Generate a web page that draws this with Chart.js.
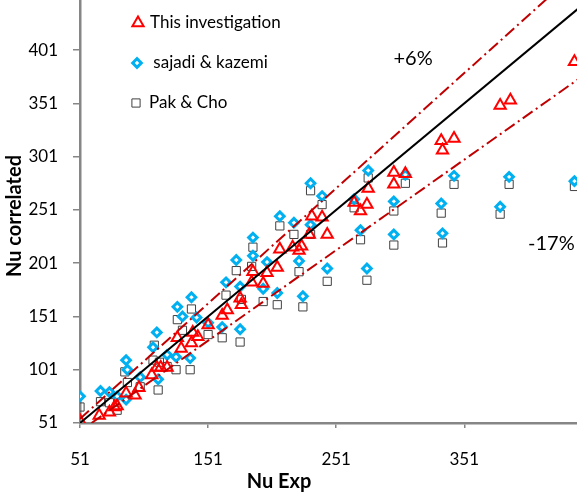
<!DOCTYPE html>
<html>
<head>
<meta charset="utf-8">
<title>Nu correlated vs Nu Exp</title>
<script src="https://cdn.jsdelivr.net/npm/chart.js@4.4.1/dist/chart.umd.min.js"></script>
<style>
  html, body { margin: 0; padding: 0; background: #fff; }
  canvas { display: block; }
</style>
</head>
<body>
<canvas id="nuChart" width="577" height="497"></canvas>
<script>
// Series names
const seriesNames = ['This investigation', ' sajadi & kazemi', 'Pak & Cho'];

// This investigation (Nu Exp, Nu correlated)
const thisX = [51, 66, 74, 78, 80, 87, 94, 97, 107, 111, 114, 119, 127, 130, 138, 139, 143,
  151, 162, 166, 176, 177, 185, 186, 194, 197, 205, 207, 217, 224, 222, 232, 240, 244, 230,
  265, 270, 275, 276, 296, 305, 296, 333, 343, 334, 379, 387, 437];
const thisY = [53, 58, 61, 66, 67, 79, 77, 84, 96, 103, 103, 103, 131, 121, 126, 136, 132,
  143, 152, 157, 168, 162, 183, 193, 182, 192, 197, 214, 216, 217, 213, 245, 244, 228, 228,
  258, 250, 256, 271, 286, 285, 275, 316, 318, 307, 349, 354, 390];

// sajadi & kazemi
const sajadiX = [51, 67, 74, 80, 87, 87, 88, 98, 112, 108, 111, 119, 126, 137, 127, 131, 138,
  142, 151, 162, 176, 165, 173, 176, 186, 186, 194, 197, 205, 207, 218, 222, 225, 231, 231,
  240, 244, 265, 270, 275, 276, 296, 296, 305, 333, 334, 343, 379, 386, 437];
const sajadiY = [76, 81, 80, 76, 73, 110, 101, 94, 92, 122, 136, 115, 113, 112, 160, 151, 169,
  150, 145, 141, 139, 183, 204, 179, 225, 208, 177, 202, 173, 245, 239, 203, 170, 276, 237,
  264, 196, 261, 232, 196, 288, 259, 228, 284, 257, 229, 283, 254, 282, 278];

// Pak & Cho
const pakX = [51, 67, 74, 80, 86, 88, 98, 108, 109, 113, 119, 126, 112, 137, 127, 131, 138,
  151, 162, 176, 165, 173, 177, 186, 185, 194, 205, 207, 218, 222, 225, 231, 231, 240, 244,
  265, 270, 275, 276, 296, 296, 305, 333, 334, 343, 379, 386, 437];
const pakY = [66, 71, 70, 63, 99, 89, 85, 110, 124, 108, 104, 101, 82, 101, 148, 138, 158,
  134, 131, 127, 171, 194, 167, 216, 198, 165, 162, 236, 228, 193, 160, 269, 228, 256, 184,
  253, 223, 185, 281, 250, 218, 276, 248, 220, 275, 247, 275, 273];

// Reference lines: parity, upper and lower bounds
const parityX = [51, 460];
const parityY = [51, 460];
const upperX = [51, 420];
const upperY = [55, 454];
const lowerX = [60, 445];
const lowerY = [51, 378];

// Axis ticks
const xTicks = [51, 151, 251, 351];
const yTicks = [51, 101, 151, 201, 251, 301, 351, 401];

const pts = (xs, ys) => xs.map((x, i) => ({ x: x, y: ys[i] }));

const FONT = 'Lato, "Open Sans", "DejaVu Sans", sans-serif';
const AXIS_GREY = '#868686';

const markerStyles = [
  { pointStyle: 'triangle', radius: 6.5, borderWidth: 2, borderColor: '#ff0000', backgroundColor: 'rgba(0,0,0,0)' },
  { pointStyle: 'rectRot', radius: 4.3, borderWidth: 3, borderColor: '#00b0f0', backgroundColor: '#ffffff' },
  { pointStyle: 'rect', radius: 5.8, borderWidth: 1, borderColor: '#404040', backgroundColor: 'rgba(0,0,0,0)' }
];

function scatterSet(label, data, st, order) {
  return {
    label: label,
    data: data,
    showLine: false,
    order: order,
    pointStyle: st.pointStyle,
    pointRadius: st.radius,
    pointHoverRadius: st.radius,
    pointBorderWidth: st.borderWidth,
    pointBorderColor: st.borderColor,
    pointBackgroundColor: st.backgroundColor
  };
}

function lineSet(data, color, dash, order) {
  return {
    data: data,
    showLine: true,
    order: order,
    borderColor: color,
    borderWidth: 2,
    borderDash: dash,
    pointRadius: 0,
    fill: false
  };
}

// the scales should not reserve room for edge labels
function noEdgePadding(s) {
  s.paddingTop = 0;
  s.paddingBottom = 0;
  s.paddingLeft = 0;
  s.paddingRight = 0;
}

// Legend, axis titles and percentage labels
const decorations = {
  id: 'decorations',
  afterDraw(chart) {
    const { ctx, scales } = chart;
    ctx.save();

    // legend in the top-left of the plot
    const rows = [
      { mx: 138, my: 23, tx: 150 },
      { mx: 137, my: 63, tx: 149 },
      { mx: 136, my: 103, tx: 149 }
    ];
    ctx.font = '17px ' + FONT;
    ctx.textBaseline = 'middle';
    ctx.textAlign = 'left';
    rows.forEach((r, i) => {
      const st = markerStyles[i];
      ctx.strokeStyle = st.borderColor;
      ctx.fillStyle = st.backgroundColor;
      ctx.lineWidth = st.borderWidth;
      Chart.helpers.drawPoint(ctx, { pointStyle: st.pointStyle, radius: st.radius, borderWidth: st.borderWidth, rotation: 0 }, r.mx, r.my);
      ctx.fillStyle = '#000';
      ctx.fillText(seriesNames[i], r.tx, r.my);
    });

    // percentage labels placed in data coordinates
    ctx.font = '20px ' + FONT;
    ctx.textAlign = 'center';
    ctx.fillText('+6%', scales.x.getPixelForValue(311), scales.y.getPixelForValue(393));
    ctx.fillText('-17%', scales.x.getPixelForValue(419), scales.y.getPixelForValue(219));

    // axis titles
    ctx.font = 'bold 20px ' + FONT;
    ctx.textBaseline = 'alphabetic';
    ctx.fillText('Nu Exp', 279, 488);
    ctx.translate(21, 216);
    ctx.rotate(-Math.PI / 2);
    ctx.fillText('Nu correlated', 0, 0);

    ctx.restore();
  }
};

const ctx = document.getElementById('nuChart');
new Chart(ctx, {
  type: 'scatter',
  data: {
    datasets: [
      lineSet(pts(parityX, parityY), '#000000', [], 1),
      lineSet(pts(upperX, upperY), '#c00000', [12, 4, 2, 4], 1),
      lineSet(pts(lowerX, lowerY), '#c00000', [12, 4, 2, 4], 1),
      scatterSet(seriesNames[2], pts(pakX, pakY), markerStyles[2], 4),
      scatterSet(seriesNames[1], pts(sajadiX, sajadiY), markerStyles[1], 3),
      scatterSet(seriesNames[0], pts(thisX, thisY), markerStyles[0], 2)
    ]
  },
  options: {
    responsive: false,
    animation: false,
    layout: { padding: 0, autoPadding: false },
    plugins: {
      legend: { display: false },
      tooltip: { enabled: false }
    },
    scales: {
      x: {
        type: 'linear',
        min: 51,
        max: 439,
        afterBuildTicks: s => { s.ticks = xTicks.map(v => ({ value: v })); },
        afterFit: s => { s.height = 74; noEdgePadding(s); },
        grid: { drawOnChartArea: false, drawTicks: true, tickLength: 5, color: AXIS_GREY, lineWidth: 1.5 },
        border: { display: true, color: AXIS_GREY, width: 2.5 },
        ticks: { padding: 21, color: '#000', font: { family: FONT, size: 17 }, maxRotation: 0 }
      },
      y: {
        type: 'linear',
        min: 51,
        max: 448,
        afterBuildTicks: s => { s.ticks = yTicks.map(v => ({ value: v })); },
        afterFit: s => { s.width = 80; noEdgePadding(s); },
        grid: { drawOnChartArea: false, drawTicks: true, tickLength: 7, color: AXIS_GREY, lineWidth: 1.5 },
        border: { display: true, color: AXIS_GREY, width: 2.5 },
        ticks: { padding: 15, color: '#000', font: { family: FONT, size: 17 } }
      }
    }
  },
  plugins: [decorations]
});
</script>
</body>
</html>
